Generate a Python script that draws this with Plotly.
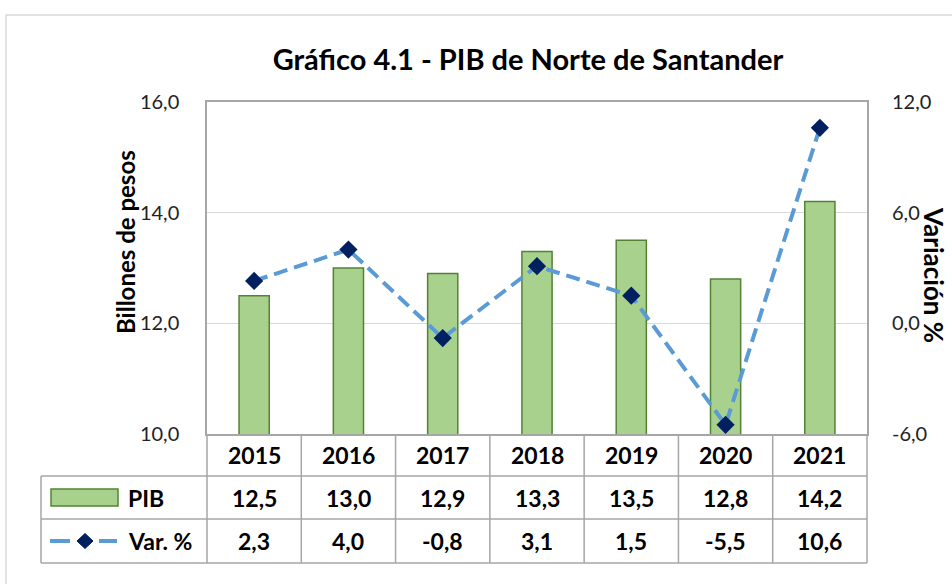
import plotly.graph_objects as go

years = ["2015", "2016", "2017", "2018", "2019", "2020", "2021"]
pib = [12.5, 13.0, 12.9, 13.3, 13.5, 12.8, 14.2]
var_pct = [2.3, 4.0, -0.8, 3.1, 1.5, -5.5, 10.6]
left_ticks = [10, 12, 14, 16]
right_ticks = [-6, 0, 6, 12]

title = "Gráfico 4.1 - PIB de Norte de Santander"
y_left_title = "Billones de pesos"
y_right_title = "Variación %"

FONT = "Lato"
BAR_FILL = "#A9D18E"
BAR_LINE = "#548235"
LINE_COL = "#5B9BD5"
MARK_COL = "#002060"
GRID = "#D9D9D9"
TBL = "#A6A6A6"

W, H = 952, 584
L, R, T, B = 207, 85, 102, 150
PW, PH = W - L - R, H - T - B


def px_x(x):
    return (x - L) / PW


def px_y(y):
    return (H - B - y) / PH


def fmt(v):
    return f"{v:.1f}".replace(".", ",")


fig = go.Figure()
fig.add_trace(go.Bar(
    x=years, y=pib, name="PIB",
    marker=dict(color=BAR_FILL, line=dict(color=BAR_LINE, width=1.5)),
    width=0.32, yaxis="y",
))
fig.add_trace(go.Scatter(
    x=years, y=var_pct, name="Var. %", mode="lines+markers",
    line=dict(color=LINE_COL, width=4, dash="14px,7px"),
    marker=dict(symbol="diamond", size=14, color=MARK_COL),
    yaxis="y2",
))

shapes = []
annotations = []

# outer border
shapes.append(dict(type="rect", xref="paper", yref="paper",
                   x0=px_x(6), x1=px_x(990), y0=px_y(620), y1=px_y(15),
                   line=dict(color=GRID, width=1.5), layer="below"))

# table geometry (pixel rows)
y_axis_px = H - B
row1_bot = 476
row2_bot = 519
row3_bot = 563
tbl_left = 41
n = len(years)

# horizontal table lines
for yy in [row1_bot, row2_bot, row3_bot]:
    shapes.append(dict(type="line", xref="paper", yref="paper",
                       x0=px_x(tbl_left), x1=1, y0=px_y(yy), y1=px_y(yy),
                       line=dict(color=TBL, width=1.5)))
# vertical table lines at category boundaries
for i in range(n + 1):
    shapes.append(dict(type="line", xref="paper", yref="paper",
                       x0=i / n, x1=i / n, y0=0, y1=px_y(row3_bot),
                       line=dict(color=TBL, width=1.5)))
# left table edge
shapes.append(dict(type="line", xref="paper", yref="paper",
                   x0=px_x(tbl_left), x1=px_x(tbl_left),
                   y0=px_y(row1_bot), y1=px_y(row3_bot),
                   line=dict(color=TBL, width=1.5)))

CELL_FONT = dict(family=FONT, size=23, color="#000")

# year header, values
for i, yr in enumerate(years):
    xc = (i + 0.5) / n
    for txt, yc in [(yr, (y_axis_px + row1_bot) / 2),
                    (fmt(pib[i]), (row1_bot + row2_bot) / 2),
                    (fmt(var_pct[i]), (row2_bot + row3_bot) / 2)]:
        annotations.append(dict(x=xc, xref="paper", xanchor="center",
                                y=px_y(yc), yref="paper", yanchor="middle",
                                text=f"<b>{txt}</b>", showarrow=False, font=CELL_FONT))

# legend keys in table
r2c = (row1_bot + row2_bot) / 2
r3c = (row2_bot + row3_bot) / 2
shapes.append(dict(type="rect", xref="paper", yref="paper",
                   x0=px_x(51), x1=px_x(118), y0=px_y(r2c + 8.5), y1=px_y(r2c - 8.5),
                   fillcolor=BAR_FILL, line=dict(color=BAR_LINE, width=1.5)))
annotations.append(dict(x=px_x(126), xref="paper", xanchor="left",
                        y=px_y(r2c), yref="paper", yanchor="middle",
                        text="<b>PIB</b>", showarrow=False, font=CELL_FONT))
for xa, xb in [(50, 70), (99, 117)]:
    shapes.append(dict(type="line", xref="paper", yref="paper",
                       x0=px_x(xa), x1=px_x(xb), y0=px_y(r3c), y1=px_y(r3c),
                       line=dict(color=LINE_COL, width=4)))
shapes.append(dict(type="path", xref="paper", yref="paper",
                   path=(f"M {px_x(77)} {px_y(r3c)} L {px_x(85)} {px_y(r3c - 7.5)} "
                         f"L {px_x(93)} {px_y(r3c)} L {px_x(85)} {px_y(r3c + 7.5)} Z"),
                   fillcolor=MARK_COL, line=dict(color=MARK_COL, width=1)))
annotations.append(dict(x=px_x(126), xref="paper", xanchor="left",
                        y=px_y(r3c), yref="paper", yanchor="middle",
                        text="<b>Var. %</b>", showarrow=False, font=CELL_FONT))

# axis titles
annotations.append(dict(x=px_x(125), xref="paper", xanchor="center",
                        y=px_y(242), yref="paper", yanchor="middle",
                        text=f"<b>{y_left_title}</b>", textangle=-90, showarrow=False,
                        font=dict(family=FONT, size=24, color="#000")))
annotations.append(dict(x=px_x(934), xref="paper", xanchor="center",
                        y=px_y(275), yref="paper", yanchor="middle",
                        text=f"<b>{y_right_title}</b>", textangle=90, showarrow=False,
                        font=dict(family=FONT, size=26, color="#000")))

fig.update_layout(
    width=W, height=H,
    margin=dict(l=L, r=R, t=T, b=B, pad=0),
    paper_bgcolor="white", plot_bgcolor="white",
    showlegend=False,
    title=dict(text=f"<b>{title}</b>", xref="container", x=528 / W, xanchor="center",
               yref="container", y=1 - 60 / H, yanchor="middle",
               font=dict(family=FONT, size=29, color="#000")),
    xaxis=dict(type="category", categoryorder="array", categoryarray=years,
               range=[-0.5, n - 0.5],
               showticklabels=False, ticks="",
               showline=True, linecolor=TBL, linewidth=1.5, mirror=True,
               showgrid=False, zeroline=False),
    yaxis=dict(range=[10, 16], tickmode="array", tickvals=left_ticks,
               ticktext=[fmt(v) for v in left_ticks],
               showgrid=True, gridcolor=GRID, gridwidth=1.2, zeroline=False,
               showline=True, linecolor=TBL, linewidth=1.5, mirror=True,
               ticks="", ticklabelstandoff=22,
               tickfont=dict(family=FONT, size=20, color="#222")),
    yaxis2=dict(range=[-6, 12], tickmode="array", tickvals=right_ticks,
                ticktext=[fmt(v) for v in right_ticks], overlaying="y", side="right",
                showgrid=False, zeroline=False, ticks="", ticklabelstandoff=24,
                tickfont=dict(family=FONT, size=20, color="#222")),
    shapes=shapes,
    annotations=annotations,
)

fig.write_html("out.html", config={"displayModeBar": False},
               post_script="document.body.style.margin='0';")
